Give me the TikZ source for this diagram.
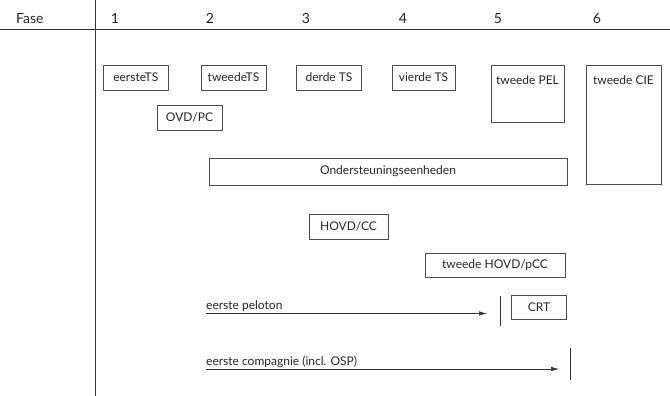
\documentclass[tikz,border=0pt]{standalone}
\usepackage{fontspec}
\setmainfont{Lato}
\usetikzlibrary{arrows.meta}
\begin{document}
\begin{tikzpicture}[x=1pt,y=-1pt,
  txt/.style={text=black!85, font=\fontsize{12}{14}\selectfont},
  box/.style={txt, draw=black!70, line width=0.6pt, inner sep=0pt,
              minimum width=65pt, minimum height=25pt},
  tallbox/.style={txt, draw=black!70, line width=0.6pt, inner xsep=0pt, inner ysep=3pt,
                  anchor=north, text height=16pt},
  rule/.style={draw=black!80, line width=0.7pt},
  flow/.style={rule, -{Latex[length=8pt,width=4.5pt]}},
  head/.style={text=black!85, font=\fontsize{14}{16}\selectfont, anchor=base}]
\useasboundingbox (0,0) rectangle (670,396);
\fill[white] (0,0) rectangle (670,396);

% header row with the phase numbers
\node[head, anchor=base west, inner sep=0pt] (fase) at (16,23.5) {Fase};
\node[head] (f1) at (115,23.5) {1};
\node[head] (f2) at (210,23.5) {2};
\node[head] (f3) at (306,23.5) {3};
\node[head] (f4) at (403,23.5) {4};
\node[head] (f5) at (498,23.5) {5};
\node[head] (f6) at (597,23.5) {6};

% table rules
\coordinate (hl) at (0,29.5);
\coordinate (hr) at (670,29.5);
\coordinate (vt) at (95,0);
\coordinate (vb) at (95,396);
\draw[rule] (hl) -- (hr);
\draw[rule] (vt) -- (vb);

% units per phase
\node[box] (ts1) at (135.8,77.5) {eersteTS};
\node[box] (ts2) at (233.5,77.5) {tweedeTS};
\node[box] (ts3) at (329,77.5) {derde TS};
\node[box, minimum width=63pt] (ts4) at (423.5,77.5) {vierde TS};
\node[tallbox, minimum width=73pt, text depth=35pt] (pel) at (527.5,65) {tweede PEL};
\node[tallbox, minimum width=75pt, text depth=97pt] (cie) at (623.5,65) {tweede CIE};
\node[box] (ovd) at (189.5,117.5) {OVD/PC};
\node[box, minimum width=358pt, minimum height=27pt] (ond) at (388,171.5) {Ondersteuningseenheden};
\node[box, minimum width=79pt] (hovd) at (348.5,226.5) {HOVD/CC};
\node[box, minimum width=140pt, minimum height=24pt] (phovd) at (495,265) {tweede HOVD/pCC};
\node[box, minimum width=55pt, minimum height=24pt] (crt) at (539,307) {CRT};

% first platoon
\coordinate (p0) at (206,313.5);
\coordinate (p1) at (487,313.5);
\coordinate (pt) at (500.5,296);
\coordinate (pb) at (500.5,326);
\draw[flow] (p0) -- (p1);
\draw[rule] (pt) -- (pb);
\node[txt, anchor=base west, inner sep=0pt] (pel1) at (206,309.5) {eerste peloton};

% first company
\coordinate (c0) at (206,369);
\coordinate (c1) at (559,369);
\coordinate (ct) at (570,348);
\coordinate (cb) at (570,380);
\draw[flow] (c0) -- (c1);
\draw[rule] (ct) -- (cb);
\node[txt, anchor=base west, inner sep=0pt] (cie1) at (206,365) {eerste compagnie (incl. OSP)};
\end{tikzpicture}
\end{document}
